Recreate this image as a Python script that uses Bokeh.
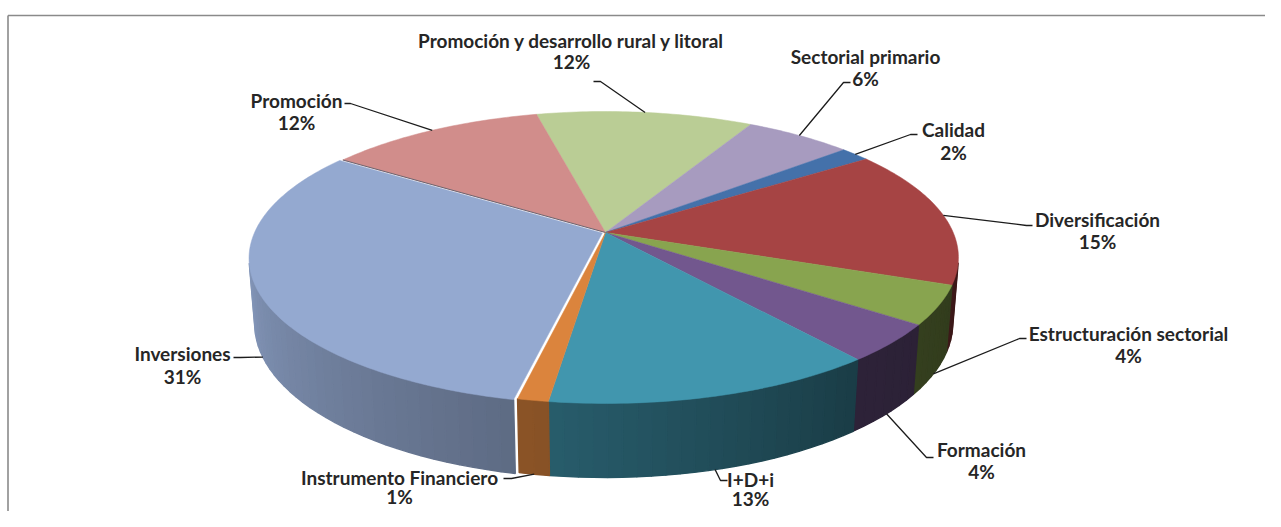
import numpy as np
from bokeh.plotting import figure
from bokeh.models import Range1d
from bokeh.embed import file_html
from bokeh.resources import INLINE
from bokeh.core.properties import value

# ---------------- data ----------------
categories = ["Promoción y desarrollo rural y litoral", "Sectorial primario", "Calidad",
              "Diversificación", "Estructuración sectorial", "Formación", "I+D+i",
              "Instrumento Financiero", "Inversiones", "Promoción"]
values = [11.7, 5.8, 1.6, 15.3, 4.3, 4.2, 13.0, 1.2, 31.1, 11.8]

# ---------------- styles / layout ----------------
top_colors = ["#BACD95", "#A79BBF", "#4471AA", "#A64444", "#88A44F",
              "#72578E", "#4196AE", "#DB843D", "#94A9D0", "#D18D8B"]
explode = [0, 0, 0, 0, 0, 0, 0, 0, 0.010, 0]
label_pos = [(571, 40), (865, 56), (953, 129), (1097, 219), (1128, 333),
             (981, 449), (750, 479), (399, 477), (182, 353), (296, 100)]
elbows = [(600, 81), (843, 82), (910, 134), (1026, 225), (1019, 338),
          (926, 457), (720, 480), (511, 478), (240, 357), (350, 103)]
ends = [(593, 81), (850, 82), (917, 134), (1032, 225), (1026, 338),
        (933, 457), (727, 480), (503, 478), (233, 357), (344, 103)]
pct_dy = [21, 22, 23, 22, 22, 22, 19, 19, 23, 22]

W, H = 1265, 511
START_DEG = -13.4
CX, CY = 605.0, 232.0
F, D = 1855.0, 5.335
ELEV = np.radians(24.05)
DEPTH = 0.2054
S, C = np.sin(ELEV), np.cos(ELEV)
FONT = value("Lato")
FONT_SIZE = "19px"


def proj(x, y, z):
    x = np.asarray(x, float); y = np.asarray(y, float); z = np.asarray(z, float)
    dep = D + y * C - z * S
    return CX + F * x / dep, CY - F * (y * S + z * C) / dep


def hex2rgb(h):
    h = h.lstrip("#")
    return tuple(int(h[i:i + 2], 16) for i in (0, 2, 4))


def shade(h, k):
    r, g, b = hex2rgb(h)
    return "#%02x%02x%02x" % (int(min(255, r * k)), int(min(255, g * k)), int(min(255, b * k)))


def side_k(theta):
    return float(np.interp(theta, [100, 140, 188, 258], [0.36, 0.40, 0.62, 0.88]))


vals = np.array(values, float)
fr = vals / vals.sum()
bounds = START_DEG + 360.0 * np.concatenate([[0.0], np.cumsum(fr)])

p = figure(width=W, height=H, x_range=Range1d(0, W), y_range=Range1d(H, 0),
           output_backend="svg", toolbar_location=None, min_border=0,
           x_axis_location=None, y_axis_location=None)
p.grid.visible = False
p.outline_line_color = None
p.background_fill_color = "white"
p.border_fill_color = "white"

# frame
p.multi_line(xs=[[7.5, 7.5], [7.5, 1300]], ys=[[560, 15], [15, 15]],
             line_color="#8a8a8a", line_width=1.6)

vis0 = np.degrees(np.arccos(-1.0 / (D * C)))
vis1 = 360.0 - vis0

side_xs, side_ys, side_cols = [], [], []
top_xs, top_ys, top_cols = [], [], []
seam_xs, seam_ys = [], []
anchors = []

for i in range(len(values)):
    a0, a1 = bounds[i], bounds[i + 1]
    mid = 0.5 * (a0 + a1)
    ox = explode[i] * np.sin(np.radians(mid))
    oy = explode[i] * np.cos(np.radians(mid))
    # top face
    th = np.radians(np.linspace(a0, a1, max(4, int((a1 - a0) / 1.0) + 2)))
    wx = np.concatenate([[0.0], np.sin(th)]) + ox
    wy = np.concatenate([[0.0], np.cos(th)]) + oy
    sx, sy = proj(wx, wy, np.zeros_like(wx))
    top_xs.append(list(sx)); top_ys.append(list(sy)); top_cols.append(top_colors[i])
    # side strips
    lo, hi = max(a0, vis0), min(a1, vis1)
    if hi > lo:
        n = max(1, int((hi - lo) / 2.0))
        edges = np.linspace(lo, hi, n + 1)
        for j in range(n):
            ta, tb = np.radians(edges[j]), np.radians(edges[j + 1])
            qx = np.array([np.sin(ta), np.sin(tb), np.sin(tb), np.sin(ta)]) + ox
            qy = np.array([np.cos(ta), np.cos(tb), np.cos(tb), np.cos(ta)]) + oy
            qz = np.array([0, 0, -DEPTH, -DEPTH])
            px_, py_ = proj(qx, qy, qz)
            side_xs.append(list(px_)); side_ys.append(list(py_))
            side_cols.append(shade(top_colors[i], side_k(0.5 * (edges[j] + edges[j + 1]))))
    # leader anchor
    tm = np.radians(mid)
    if np.cos(tm) < -1.0 / (D * C):
        ax, ay = proj(np.sin(tm) + ox, np.cos(tm) + oy, -DEPTH)
    else:
        ax, ay = proj(np.sin(tm) + ox, np.cos(tm) + oy, 0.0)
    anchors.append((float(ax), float(ay)))

# thin dark seam where an exploded slice parts from its counter-clockwise neighbour
for i in range(len(values)):
    j = (i - 1) % len(values)
    if explode[j] > 0 and explode[i] == 0:
        t = np.radians(bounds[i])
        fx, fy = proj([0, np.sin(t)], [0, np.cos(t)], [0, 0])
        seam_xs.append(list(fx)); seam_ys.append(list(fy))

p.patches(side_xs, side_ys, fill_color=side_cols, line_color=side_cols, line_width=1.4)
p.patches(top_xs, top_ys, fill_color=top_cols, line_color=top_cols, line_width=0.5)
if seam_xs:
    p.multi_line(seam_xs, seam_ys, line_color="#6b6470", line_width=1.0)

# leader lines
lx = [[anchors[i][0], elbows[i][0], ends[i][0]] for i in range(len(values))]
ly = [[anchors[i][1], elbows[i][1], ends[i][1]] for i in range(len(values))]
p.multi_line(lx, ly, line_color="#1c1c1c", line_width=1.3)

# labels
pcts = ["%d%%" % int(round(f * 100)) for f in fr]
p.text(x=[q[0] for q in label_pos], y=[q[1] for q in label_pos], text=categories,
       text_font=FONT, text_font_style="bold", text_font_size=FONT_SIZE,
       text_align="center", text_baseline="middle", text_color="#262626")
p.text(x=[q[0] for q in label_pos], y=[label_pos[i][1] + pct_dy[i] for i in range(len(values))],
       text=pcts, text_font=FONT, text_font_style="bold", text_font_size=FONT_SIZE,
       text_align="center", text_baseline="middle", text_color="#262626")

open("out.html", "w").write(file_html(p, INLINE))
